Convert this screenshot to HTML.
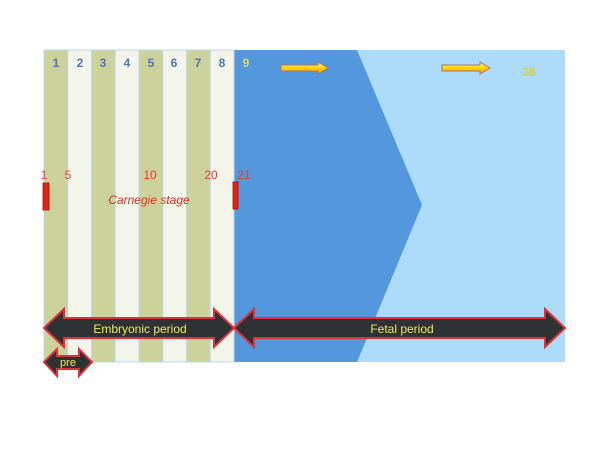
<!DOCTYPE html>
<html><head><style>
body{margin:0;background:#fff;width:600px;height:450px;overflow:hidden}
svg{display:block}
</style></head><body>
<svg width="600" height="450" xmlns="http://www.w3.org/2000/svg" font-family="Liberation Sans, sans-serif">
<defs>
<linearGradient id="yg" x1="0" y1="0" x2="0" y2="1"><stop offset="0" stop-color="#fff7a0"/><stop offset="0.5" stop-color="#ffd400"/><stop offset="1" stop-color="#f0a020"/></linearGradient>
</defs>
<rect x="234" y="50" width="331" height="312" fill="#acdcfa"/>
<polygon points="234,50 357,50 422,205 357,362 234,362" fill="#5398dd"/>
<g stroke="#bcd8ec" stroke-width="1">
<rect x="44" y="50" width="23.75" height="312" fill="#cdd29b"/>
<rect x="67.75" y="50" width="23.75" height="312" fill="#f3f4ea"/>
<rect x="91.5" y="50" width="23.75" height="312" fill="#cdd29b"/>
<rect x="115.25" y="50" width="23.75" height="312" fill="#f3f4ea"/>
<rect x="139" y="50" width="23.75" height="312" fill="#cdd29b"/>
<rect x="162.75" y="50" width="23.75" height="312" fill="#f3f4ea"/>
<rect x="186.5" y="50" width="23.75" height="312" fill="#cdd29b"/>
<rect x="210.25" y="50" width="23.75" height="312" fill="#f3f4ea"/>
</g>
<g font-size="12" fill="#4a78b8" text-anchor="middle" font-weight="bold">
<text x="56" y="67">1</text><text x="80" y="67">2</text><text x="103" y="67">3</text><text x="127" y="67">4</text>
<text x="151" y="67">5</text><text x="174" y="67">6</text><text x="198" y="67">7</text><text x="222" y="67">8</text>
<text x="246" y="67" fill="#d8d860">9</text>
<text x="529" y="76" fill="#d8d040">38</text>
</g>
<g stroke="#b07070" stroke-width="1" fill="url(#yg)">
<polygon points="281,65 318,65 318,62 328,68 318,74 318,71 281,71"/>
<polygon points="442,65 480,65 480,62 490,68 480,74 480,71 442,71"/>
</g>
<g font-size="12" fill="#e04030" text-anchor="middle">
<text x="44" y="179">1</text><text x="68" y="179">5</text><text x="150" y="179">10</text><text x="211" y="179">20</text><text x="244" y="179">21</text>
</g>
<text x="149" y="204" font-size="12" fill="#d83020" font-style="italic" text-anchor="middle">Carnegie stage</text>
<rect x="43" y="183" width="6" height="27" fill="#e82010" stroke="#a01000" stroke-width="0.8"/>
<rect x="233" y="182" width="5" height="27" fill="#e82010" stroke="#a01000" stroke-width="0.8"/>
<g fill="#2e3234" stroke="#e0303a" stroke-width="2">
<polygon points="44,328 64,309 64,318 214,318 214,309 234,328 214,347 214,338 64,338 64,347"/>
<polygon points="234,328 254,309 254,318 545,318 545,309 565,328 545,347 545,338 254,338 254,347"/>
<polygon points="44,362 57,349 57,356 79,356 79,349 92,362 79,376 79,369 57,369 57,376"/>
</g>
<g fill="#f0e860" font-size="12" text-anchor="middle">
<text x="140" y="333">Embryonic period</text>
<text x="402" y="333">Fetal period</text>
<text x="68" y="366" font-size="11">pre</text>
</g>
</svg>
</body></html>
